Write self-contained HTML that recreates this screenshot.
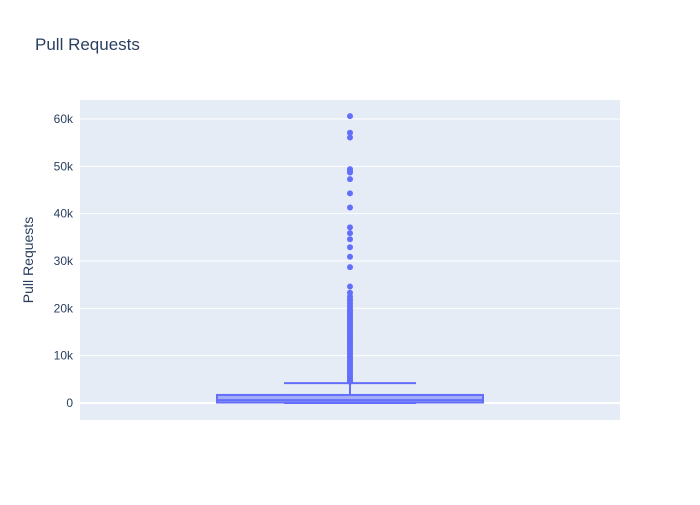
<!DOCTYPE html>
<html><head><meta charset="utf-8"><style>
body{margin:0;background:#fff;font-family:"Liberation Sans",sans-serif}
svg text{font-family:"Liberation Sans",sans-serif}
</style></head><body>
<svg width="700" height="500" xmlns="http://www.w3.org/2000/svg">
<rect width="700" height="500" fill="#fff"/>
<text x="35" y="50" font-size="17" fill="#2a3f5f">Pull Requests</text>
<rect x="80" y="100" width="540" height="320" fill="#e5ecf6"/>
<g id="grid"></g>
<text transform="translate(33,260) rotate(-90)" text-anchor="middle" font-size="14" fill="#2a3f5f">Pull Requests</text>
<g id="marks"></g>
</svg>
<script>
const yTicks=[0,10000,20000,30000,40000,50000,60000];
const yTickLabels=["0","10k","20k","30k","40k","50k","60k"];
const boxStats=[0,100,600,1700,4200]; // min,q1,median,q3,upper fence
const outliers=[60600,57100,56100,49400,48900,48700,47300,44300,41300,37100,35900,34600,32900,30900,28700,24600,23300,22500,22000,21600,21000,20500,20000,19600,19200,18800,18400,18000,17600,17200,16800,16400,16000,15600,15200,14800,14400,14000,13600,13200,12800,12400,12000,11600,11200,10800,10400,10000,9600,9200,8800,8400,8000,7600,7200,6800,6400,6000,5600,5200,4800,4500];
const NS="http://www.w3.org/2000/svg";
function y(v){return 403-v*(284/60000);}
const xc=350,bx0=217,bx1=483,wx0=284,wx1=416;
const grid=document.getElementById('grid'),marks=document.getElementById('marks');
function mk(tag,attrs,parent){const e=document.createElementNS(NS,tag);for(const k in attrs)e.setAttribute(k,attrs[k]);parent.appendChild(e);return e;}
yTicks.forEach((t,i)=>{
  const l=mk('line',{x1:80,x2:620,y1:y(t),y2:y(t),stroke:'#fff','stroke-width':t===0?2:1},grid);
  
  
  const tx=mk('text',{x:73,y:y(t)+4,'text-anchor':'end','font-size':12,fill:'#2a3f5f'},grid);
  tx.textContent=yTickLabels[i];
  
  
});
const [mn,q1,md,q3,uf]=boxStats;
const w1=mk('line',{x1:xc,x2:xc,y1:y(q3),y2:y(uf),stroke:'#636efa','stroke-width':2},marks);


const w2=mk('line',{x1:wx0,x2:wx1,y1:y(uf),y2:y(uf),stroke:'#636efa','stroke-width':2},marks);


const w3=mk('line',{x1:wx0,x2:wx1,y1:y(mn),y2:y(mn),stroke:'#636efa','stroke-width':2},marks);


const box=mk('rect',{x:bx0,y:y(q3),width:bx1-bx0,height:y(q1)-y(q3),fill:'rgba(99,110,250,0.5)',stroke:'#636efa','stroke-width':2},marks);


const med=mk('line',{x1:bx0,x2:bx1,y1:y(md),y2:y(md),stroke:'#636efa','stroke-width':2},marks);


outliers.forEach(v=>{
  const c=mk('circle',{cx:xc,cy:y(v),r:3,fill:'#636efa'},marks);
  
  
});
</script>
</body></html>
